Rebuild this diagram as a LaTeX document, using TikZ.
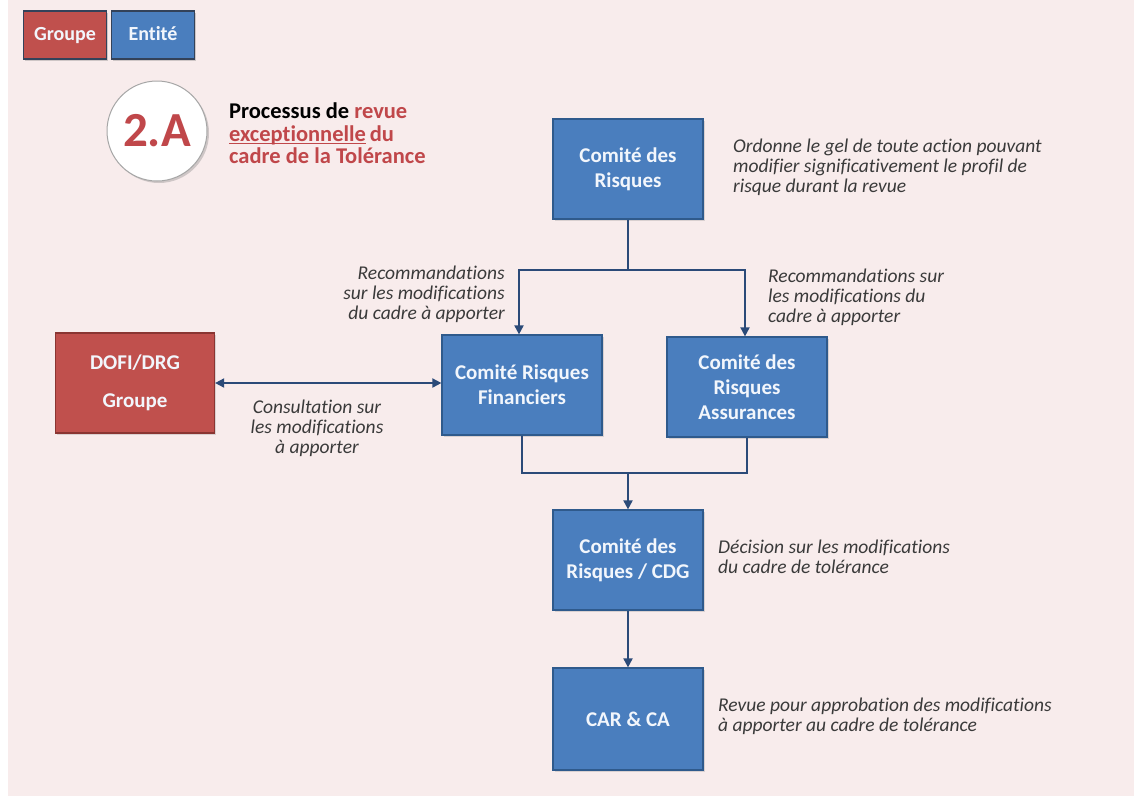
\documentclass[tikz,border=0pt]{standalone}
\usepackage{fontspec}
\setmainfont{Carlito}[Ligatures=NoCommon]
\usetikzlibrary{arrows.meta,shadows}
\definecolor{bgpink}{HTML}{F8ECEC}
\definecolor{boxblue}{HTML}{4A7EBE}
\definecolor{boxblueedge}{HTML}{2F5A8C}
\definecolor{boxred}{HTML}{C0504D}
\definecolor{boxrededge}{HTML}{8A3532}
\definecolor{legendedge}{HTML}{33425A}
\definecolor{linkblue}{HTML}{2B4A78}
\definecolor{titlered}{HTML}{C0474A}
\definecolor{notegray}{HTML}{3A3A3A}
\definecolor{boxtext}{HTML}{F2F6FC}
% underline drawn close to the baseline
\newcommand\ulexc[1]{\setbox0\hbox{#1}\rlap{\rule[-2.6pt]{\wd0}{1.1pt}}\box0}
\tikzset{
  bluebox/.style={draw=boxblueedge, line width=1.2pt, fill=boxblue, text=boxtext,
    minimum width=150, minimum height=100, align=center,
    font=\fontsize{21}{25}\selectfont\bfseries,
    drop shadow={opacity=0.25, shadow xshift=1.5pt, shadow yshift=-1.5pt}},
  redbox/.style={bluebox, draw=boxrededge, fill=boxred},
  legendbox/.style={draw=legendedge, line width=1.8pt, fill=boxblue, text=boxtext,
    minimum width=83, minimum height=48, text height=14pt, text depth=4pt,
    font=\fontsize{20}{22}\selectfont\bfseries,
    drop shadow={opacity=0.35, shadow xshift=1.5pt, shadow yshift=-1.5pt}},
  note/.style={text=notegray, font=\fontsize{19.5}{19.8}\selectfont\itshape, inner sep=0pt},
  link/.style={draw=linkblue, line width=1.8pt},
  arr/.style={link, -{Triangle[length=9pt, width=9pt]}},
  biarr/.style={link, {Triangle[length=9pt, width=9pt]}-{Triangle[length=9pt, width=9pt]}}
}
\begin{document}
\begin{tikzpicture}[x=1pt, y=-1pt]
  % page and background
  \useasboundingbox (0,0) rectangle (1134,796);
  \fill[white] (0,0) rectangle (1134,796);
  \fill[bgpink] (8,0) rectangle (1134,796);

  % legend
  \node[legendbox, fill=boxred] (lgroupe) at (65,35) {Groupe};
  \node[legendbox] (lentite) at (153,35) {Entité};

  % process badge and title
  \node[circle, draw=black!35, line width=1pt, fill=white, minimum size=100,
        drop shadow={opacity=0.35, shadow xshift=2pt, shadow yshift=-2pt},
        text=titlered, font=\fontsize{49}{49}\selectfont\bfseries] (badge) at (157,131) {2.A};
  \node[anchor=north west, align=left, inner sep=0pt,
        font=\fontsize{22.5}{22.5}\selectfont\bfseries] (title) at (229,103)
    {Processus de \textcolor{titlered}{revue}\\
     \textcolor{titlered}{\ulexc{exceptionnelle}\,du}\\
     \textcolor{titlered}{cadre de la Tolérance}};

  % committees
  \node[bluebox] (cdr) at (628,169) {Comité des\\Risques};
  \node[bluebox, minimum width=160] (crf) at (522,385) {Comité Risques\\Financiers};
  \node[bluebox, minimum width=160] (cra) at (747,387) {Comité des\\Risques\\Assurances};
  \node[redbox, minimum width=159] (dofi) at (135,383) {DOFI/DRG\\[13pt]Groupe};
  \node[bluebox] (cdg) at (628,560) {Comité des\\Risques / CDG};
  \node[bluebox, minimum height=102] (car) at (628,719) {CAR \& CA};

  % connectors
  \coordinate (split) at (628,270);
  \coordinate (join) at (628,473);
  \draw[link] (cdr.south) -- (split);
  \draw[arr] (split) -| ([xshift=-3pt]crf.north);
  \draw[arr] (split) -| ([xshift=-2pt]cra.north);
  \draw[link] (crf.south) |- (join);
  \draw[link] (cra.south) |- (join);
  \draw[arr] (join) -- (cdg.north);
  \draw[arr] (cdg.south) -- (car.north);
  \draw[biarr] (dofi.east) -- (dofi.east -| crf.west);

  % annotations
  \node[note, anchor=north west, align=left] (ncdr) at (733,139)
    {Ordonne le gel de toute action pouvant\\modifier significativement le profil de\\risque durant la revue};
  \node[note, anchor=north east, align=right] (ncrf) at (505,266)
    {Recommandations\\sur les modifications\\du cadre à apporter};
  \node[note, anchor=north west, align=left] (ncra) at (768,269)
    {Recommandations sur\\les modifications du\\cadre à apporter};
  \node[note, anchor=north, align=center] (ndofi) at (317,400)
    {Consultation sur\\les modifications\\à apporter};
  \node[note, anchor=north west, align=left] (ncdg) at (718,540)
    {Décision sur les modifications\\du cadre de tolérance};
  \node[note, anchor=north west, align=left] (ncar) at (718,698)
    {Revue pour approbation des modifications\\à apporter au cadre de tolérance};
\end{tikzpicture}
\end{document}
